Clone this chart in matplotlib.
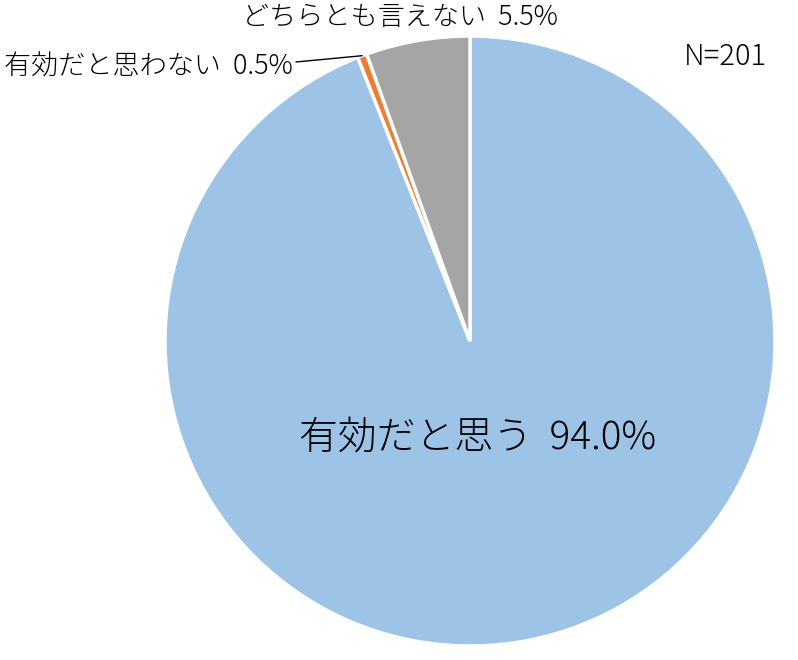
import numpy as np
import matplotlib
matplotlib.use("Agg")
import matplotlib.pyplot as plt

plt.rcParams['font.family'] = ['Noto Sans CJK JP', 'DejaVu Sans']
plt.rcParams['font.weight'] = 'light'

# data (clockwise from 12 o'clock)
labels = ["有効だと思う", "有効だと思わない", "どちらとも言えない"]
shares = [94.0, 0.5, 5.5]
colors = ["#9DC3E6", "#ED7D31", "#A5A5A5"]
n_total = 201

W, H = 798, 660
fig = plt.figure(figsize=(W / 100, H / 100), dpi=100)

# pie centre (470, 341) px, radius 305 px
cx, cy, r = 470, 341, 305
ax = fig.add_axes([(cx - r) / W, (H - cy - r) / H, 2 * r / W, 2 * r / H])
wedges, _ = ax.pie(shares, colors=colors, startangle=90, counterclock=False,
                   wedgeprops=dict(edgecolor="white", linewidth=2.5))
ax.set_xlim(-1, 1)
ax.set_ylim(-1, 1)
ax.set_aspect("equal")
ax.axis("off")

def px(x, y):
    return x / W, 1 - y / H

# big label inside
fig.text(*px(478, 438), f"{labels[0]}  {shares[0]:.1f}%", fontsize=28,
         ha="center", va="center")

# top label for gray slice
fig.text(*px(400, 17), f"{labels[2]}  {shares[2]:.1f}%", fontsize=19.5,
         ha="center", va="center")

# left label for orange slice with leader line
fig.text(*px(293, 67), f"{labels[1]}  {shares[1]:.1f}%", fontsize=19.5,
         ha="right", va="center")
w = wedges[1]
mid = np.deg2rad((w.theta1 + w.theta2) / 2)
ax.annotate("", xy=(np.cos(mid), np.sin(mid)), xycoords="data",
            xytext=(296, H - 62), textcoords="figure pixels",
            arrowprops=dict(arrowstyle="-", color="black", lw=1,
                            shrinkA=0, shrinkB=0))

fig.text(*px(725, 57), f"N={n_total}", fontsize=21, ha="center", va="center")

fig.savefig("out.png", dpi=100, facecolor="white")
